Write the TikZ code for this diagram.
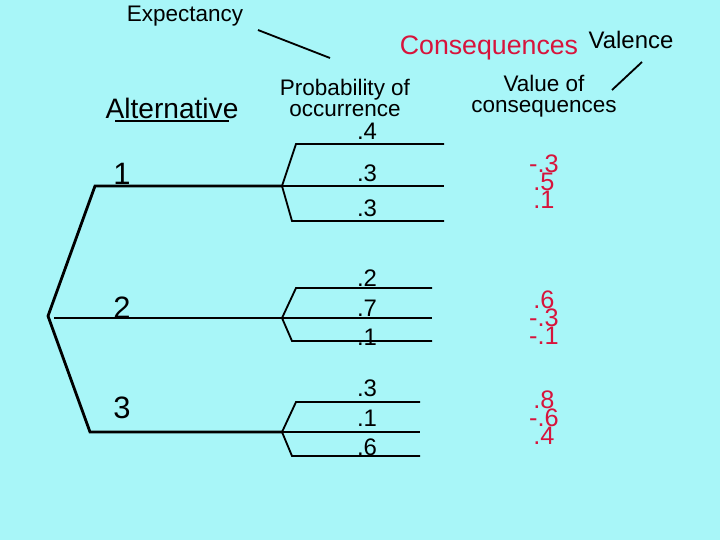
\documentclass[tikz,border=0pt]{standalone}
\usepackage{fontspec}
\setmainfont{Liberation Sans}
\usetikzlibrary{positioning}
\definecolor{bgcolor}{RGB}{168,246,248}
\definecolor{valuecolor}{RGB}{215,20,60}

\begin{document}
\begin{tikzpicture}[
    x=0.025cm, y=-0.025cm,
    branch/.style={
        line width=2pt,
        draw=black
    },
    twig/.style={
        line width=1.3pt,
        draw=black
    },
    prob/.style={
        font=\fontsize{17}{17}\selectfont
    },
    value/.style={
        font=\fontsize{18}{12.8}\selectfont,
        text=valuecolor,
        align=center
    },
    heading/.style={
        font=\fontsize{16}{15}\selectfont,
        align=center
    }
]

% Background
\fill[bgcolor] (0,0) rectangle (720,540);
\useasboundingbox (0,0) rectangle (720,540);

% Headings
\node[heading] (expect) at (185,16) {Expectancy};
\node[heading, font=\fontsize{19}{19}\selectfont, text=valuecolor] (conseq) at (489,48) {Consequences};
\node[heading, font=\fontsize{17}{17}\selectfont] (valence) at (631,40) {Valence};
\node[heading] (probhead) at (345,98) {Probability of\\occurrence};
\node[heading] (valuehead) at (544,96) {Value of\\consequences};
\node[font=\fontsize{20}{20}\selectfont] (althead) at (172,108) {Alternative};
\coordinate (altline1) at (115,121);
\coordinate (altline2) at (229,121);
\draw[twig] (altline1) -- (altline2);

% Pointer lines
\coordinate (expect_a) at (258,30);
\coordinate (expect_b) at (330,58);
\draw[twig] (expect_a) -- (expect_b);
\coordinate (valence_a) at (642,62);
\coordinate (valence_b) at (612,90);
\draw[twig] (valence_a) -- (valence_b);

% Alternatives
\coordinate (root) at (48,316);
\coordinate (alt1) at (95,186);
\coordinate (alt3) at (90,432);
\coordinate (chance1) at (282,186);
\coordinate (chance2) at (282,318);
\coordinate (chance3) at (282,432);
\coordinate (alt2) at (54,318);
\draw[branch] (chance1) -- (alt1) -- (root) -- (alt3) -- (chance3);
\draw[branch] (alt2) -- (chance2);
\node[font=\fontsize{22}{22}\selectfont] (lab1) at (122,174) {1};
\node[font=\fontsize{22}{22}\selectfont] (lab2) at (122,308) {2};
\node[font=\fontsize{22}{22}\selectfont] (lab3) at (122,408) {3};

% Outcome branches
\foreach \c/\ya/\yb/\yc/\xe in {1/144/186/221/444, 2/288/318/341/432, 3/402/432/456/420} {
    \draw[twig] (\xe,\ya) -- (296,\ya) -- (chance\c) -- (292,\yc) -- (\xe,\yc);
    \draw[twig] (chance\c) -- (\xe,\yb);
}

% Probabilities
\node[prob] (p1a) at (367,131) {.4};
\node[prob] (p1b) at (367,173) {.3};
\node[prob] (p1c) at (367,208) {.3};
\node[prob] (p2a) at (367,278) {.2};
\node[prob] (p2b) at (367,308) {.7};
\node[prob] (p2c) at (367,337) {.1};
\node[prob] (p3a) at (367,388) {.3};
\node[prob] (p3b) at (367,418) {.1};
\node[prob] (p3c) at (367,447) {.6};

% Values
\node[value] (v1) at (544,182) {-.3\\.5\\.1};
\node[value] (v2) at (544,318) {.6\\-.3\\-.1};
\node[value] (v3) at (544,418) {.8\\-.6\\.4};

\end{tikzpicture}
\end{document}
